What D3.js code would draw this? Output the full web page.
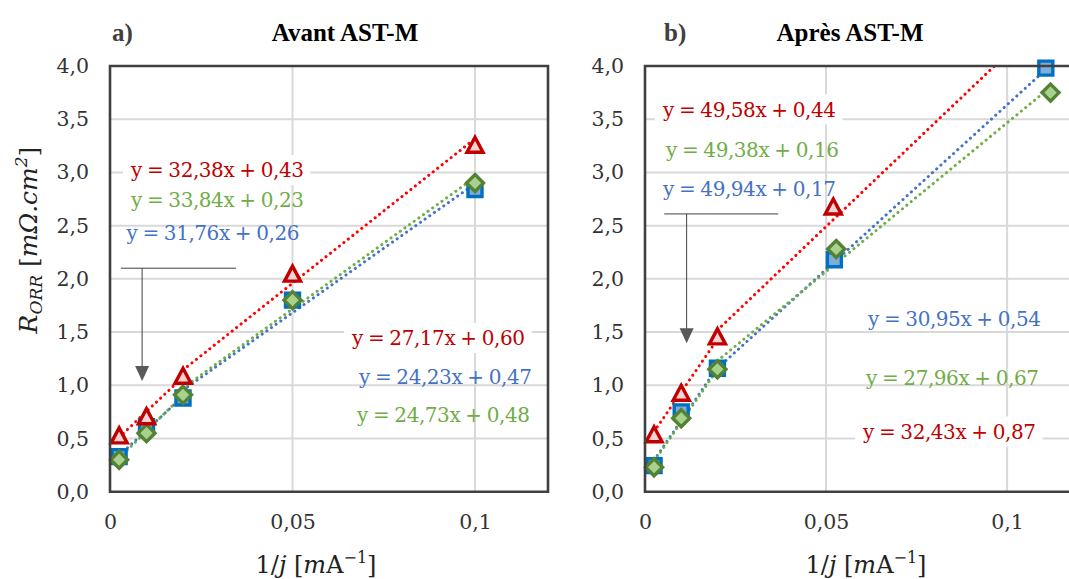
<!DOCTYPE html>
<html><head><meta charset="utf-8">
<script src="https://cdn.jsdelivr.net/npm/d3@7"></script>
<style>html,body{margin:0;padding:0;background:#fff;overflow:hidden}</style>
</head><body>
<svg id="chart" width="1069" height="579"></svg>
<script>
// ---------- DATA ----------
const xTickValues = [0, 0.05, 0.1];
const yTickValues = [0, 0.5, 1, 1.5, 2, 2.5, 3, 3.5, 4];
const seriesKeys = ["blue", "green", "red"];

// Panel a) Avant AST-M
const xA = [0.0025, 0.01, 0.02, 0.05, 0.1];
const redA = [0.52, 0.70, 1.08, 2.04, 3.25];
const blueA = [0.33, 0.61, 0.88, 1.80, 2.84];
const greenA = [0.30, 0.55, 0.91, 1.80, 2.90];

// Panel b) Après AST-M
const xRedB = [0.0025, 0.01, 0.02, 0.052];
const redB = [0.53, 0.92, 1.45, 2.67];
const xBlueB = [0.0025, 0.01, 0.02, 0.0523, 0.1107];
const blueB = [0.245, 0.75, 1.16, 2.18, 3.98];
const xGreenB = [0.0025, 0.01, 0.02, 0.0528, 0.112];
const greenB = [0.23, 0.69, 1.15, 2.28, 3.75];

// Linear fits (order: blue, green, red)
const slopeLowA = [31.76, 33.84, 32.38];
const interLowA = [0.26, 0.23, 0.43];
const slopeHighA = [24.23, 24.73, 27.17];
const interHighA = [0.47, 0.48, 0.60];
const slopeLowB = [49.94, 49.38, 49.58];
const interLowB = [0.17, 0.16, 0.44];
const slopeHighB = [30.95, 27.96, 32.43];
const interHighB = [0.54, 0.67, 0.87];
const lowRange = [0.0025, 0.02];
const highRangeA = [[0.02, 0.1], [0.02, 0.1], [0.02, 0.1]];
const highRangeB = [[0.02, 0.1107], [0.02, 0.112], [0.02, 0.11]];

const titles = ["Avant AST-M", "Après AST-M"];
const panelTags = ["a)", "b)"];

// ---------- STYLE ----------
const markerStroke = {red: "#C00000", blue: "#0070C0", green: "#548235"};
const markerFill = {red: "#F6D2D2", blue: "#7FADDB", green: "#A9D18E"};
const lineColor = {red: "#FF0000", blue: "#4472C4", green: "#70AD47"};
const labelColor = {red: "#C00000", blue: "#4472C4", green: "#70AD47"};
const SERIF = "'DejaVu Serif', serif";

const fmtComma = (v, d) => v.toFixed(d).replace(".", ",");
const eqText = (s, b) => `y = ${fmtComma(s, 2)}x + ${fmtComma(b, 2)}`;

const svg = d3.select("#chart");

const panels = [
  {
    left: 110, right: 548, top: 66, bottom: 491.7,
    series: {
      blue: {x: xA, y: blueA}, green: {x: xA, y: greenA}, red: {x: xA, y: redA}
    },
    low: {s: slopeLowA, b: interLowA}, high: {s: slopeHighA, b: interHighA, r: highRangeA},
    labels: [ // [seriesIndex, which, x px, baseline px]
      [2, "low", 131, 177], [1, "low", 131, 207], [0, "low", 126.5, 239.5],
      [2, "high", 352, 345], [0, "high", 359, 383.5], [1, "high", 357, 421.5]
    ],
    arrow: {hx: [0.003, 0.0345], hy: 2.10, vx: 0.0088, tip: 1.04},
    tagX: 112, titleX: 345, frameRight: true, yTitle: true, xTitleX: 316
  },
  {
    left: 645, right: 1079.5, top: 66, bottom: 491.7,
    series: {
      blue: {x: xBlueB, y: blueB}, green: {x: xGreenB, y: greenB}, red: {x: xRedB, y: redB}
    },
    low: {s: slopeLowB, b: interLowB}, high: {s: slopeHighB, b: interHighB, r: highRangeB},
    labels: [
      [2, "low", 663, 116.5], [1, "low", 666, 156.5], [0, "low", 663, 195.5],
      [0, "high", 868, 325.5], [1, "high", 866, 384.5], [2, "high", 863, 438.5]
    ],
    arrow: {hx: [0.0053, 0.0368], hy: 2.61, vx: 0.0115, tip: 1.395},
    tagX: 664, titleX: 850, frameRight: false, yTitle: false, xTitleX: 866
  }
];

panels.forEach((p, pi) => {
  const x = d3.scaleLinear().domain([0, 0.12]).range([p.left, p.right]);
  const y = d3.scaleLinear().domain([0, 4]).range([p.bottom, p.top]);
  const g = svg.append("g");
  const clipId = "clip" + pi;
  svg.append("clipPath").attr("id", clipId).append("rect")
    .attr("x", p.left).attr("y", p.top).attr("width", p.right - p.left).attr("height", p.bottom - p.top);

  // gridlines
  g.append("g").selectAll("line").data(yTickValues.filter(v => v > 0 && v < 4)).join("line")
    .attr("x1", p.left).attr("x2", p.right).attr("y1", d => y(d)).attr("y2", d => y(d))
    .attr("stroke", "#D9D9D9").attr("stroke-width", 2);
  g.append("g").selectAll("line").data(xTickValues.filter(v => v > 0)).join("line")
    .attr("y1", p.top).attr("y2", p.bottom).attr("x1", d => x(d)).attr("x2", d => x(d))
    .attr("stroke", "#D9D9D9").attr("stroke-width", 2);

  // tick labels via axes
  const yAxis = d3.axisLeft(y).tickValues(yTickValues).tickSize(0).tickPadding(21)
    .tickFormat(d => fmtComma(d, 1));
  const ya = g.append("g").attr("transform", `translate(${p.left},0)`).call(yAxis);
  ya.select(".domain").remove();
  ya.selectAll("text").attr("font-family", SERIF).attr("font-size", 20.5).attr("fill", "#333");

  const xAxis = d3.axisBottom(x).tickValues(xTickValues).tickSize(0).tickPadding(23)
    .tickFormat(d => d === 0 ? "0" : String(d).replace(".", ","));
  const xa = g.append("g").attr("transform", `translate(0,${p.bottom})`).call(xAxis);
  xa.select(".domain").remove();
  xa.selectAll("text").attr("font-family", SERIF).attr("font-size", 20.5).attr("fill", "#333");

  // trendlines
  const tl = g.append("g").attr("clip-path", `url(#${clipId})`);
  seriesKeys.forEach((k, i) => {
    const segs = [
      {s: p.low.s[i], b: p.low.b[i], r: lowRange},
      {s: p.high.s[i], b: p.high.b[i], r: p.high.r[i]}
    ];
    segs.forEach(sg => {
      tl.append("line")
        .attr("x1", x(sg.r[0])).attr("y1", y(sg.s * sg.r[0] + sg.b))
        .attr("x2", x(sg.r[1])).attr("y2", y(sg.s * sg.r[1] + sg.b))
        .attr("stroke", lineColor[k]).attr("stroke-width", 3)
        .attr("stroke-linecap", "round").attr("stroke-dasharray", "0.1 5.6");
    });
  });

  // markers
  const mk = g.append("g");
  const shapes = {
    blue: "M-7,-7H7V7H-7Z",
    green: "M0,-8.5L8.5,0L0,8.5L-8.5,0Z",
    red: "M0,-8.5L8,6.5H-8Z"
  };
  seriesKeys.forEach(k => {
    const s = p.series[k];
    mk.append("g").selectAll("path").data(s.x.map((v, i) => [v, s.y[i]])).join("path")
      .attr("transform", d => `translate(${x(d[0])},${y(d[1])})`)
      .attr("d", shapes[k])
      .attr("fill", markerFill[k]).attr("stroke", markerStroke[k])
      .attr("stroke-width", 3.4).attr("stroke-linejoin", "miter");
  });

  // equation labels
  const lab = g.append("g");
  p.labels.forEach(([si, which, lx, ly]) => {
    const k = seriesKeys[si];
    const src = which === "low" ? p.low : p.high;
    const t = lab.append("text").attr("x", lx).attr("y", ly)
      .attr("font-family", SERIF).attr("font-size", 20).attr("fill", labelColor[k])
      .attr("letter-spacing", -0.45).attr("word-spacing", -0.8)
      .text(eqText(src.s[si], src.b[si]));
    if (k === "red") {
      const bb = t.node().getBBox();
      lab.insert("rect", "text").attr("x", bb.x - 7).attr("y", bb.y - 3)
        .attr("width", bb.width + 14).attr("height", bb.height + 6).attr("fill", "#fff");
    }
  });

  // frame
  const fr = g.append("path").attr("fill", "none").attr("stroke", "#404040").attr("stroke-width", 2.6);
  if (p.frameRight) {
    fr.attr("d", `M${p.left},${p.top}H${p.right}V${p.bottom}H${p.left}Z`);
  } else {
    fr.attr("d", `M${p.right},${p.top}H${p.left}V${p.bottom}H${p.right}`);
  }

  // arrow annotation
  const a = p.arrow;
  g.append("line").attr("x1", x(a.hx[0])).attr("x2", x(a.hx[1])).attr("y1", y(a.hy)).attr("y2", y(a.hy))
    .attr("stroke", "#404040").attr("stroke-width", 1);
  g.append("line").attr("x1", x(a.vx)).attr("x2", x(a.vx)).attr("y1", y(a.hy)).attr("y2", y(a.tip) - 10)
    .attr("stroke", "#404040").attr("stroke-width", 1);
  g.append("path")
    .attr("d", `M${x(a.vx) - 7},${y(a.tip) - 15}L${x(a.vx) + 7},${y(a.tip) - 15}L${x(a.vx)},${y(a.tip)}Z`)
    .attr("fill", "#595959");

  // titles
  g.append("text").attr("x", p.tagX).attr("y", 41).attr("font-family", "'Liberation Serif', serif")
    .attr("font-weight", "bold").attr("font-size", 25).attr("fill", "#404040").text(panelTags[pi]);
  g.append("text").attr("x", p.titleX).attr("y", 41).attr("text-anchor", "middle")
    .attr("font-family", "'Liberation Serif', serif").attr("font-weight", "bold").attr("font-size", 25)
    .attr("fill", "#000").text(titles[pi]);

  // x axis title
  const xt = g.append("text").attr("x", p.xTitleX).attr("y", 573).attr("text-anchor", "middle")
    .attr("font-family", SERIF).attr("font-size", 24).attr("fill", "#222");
  xt.append("tspan").text("1/");
  xt.append("tspan").attr("font-style", "italic").text("j");
  xt.append("tspan").text(" [");
  xt.append("tspan").attr("font-style", "italic").text("m");
  xt.append("tspan").text("A");
  xt.append("tspan").attr("font-size", 16).attr("dy", -10).text("−1");
  xt.append("tspan").attr("dy", 10).text("]");

  if (p.yTitle) {
    const yt = g.append("text").attr("transform", "translate(37,240) rotate(-90)")
      .attr("text-anchor", "middle").attr("font-family", SERIF).attr("font-size", 25).attr("fill", "#222");
    yt.append("tspan").attr("font-style", "italic").text("R");
    yt.append("tspan").attr("font-style", "italic").attr("font-size", 17).attr("dy", 5).text("ORR");
    yt.append("tspan").attr("dy", -5).text(" [");
    yt.append("tspan").attr("font-style", "italic").text("mΩ.cm");
    yt.append("tspan").attr("font-style", "italic").attr("font-size", 17).attr("dy", -10).text("2");
    yt.append("tspan").attr("dy", 10).text("]");
  }
});
</script>
</body></html>
